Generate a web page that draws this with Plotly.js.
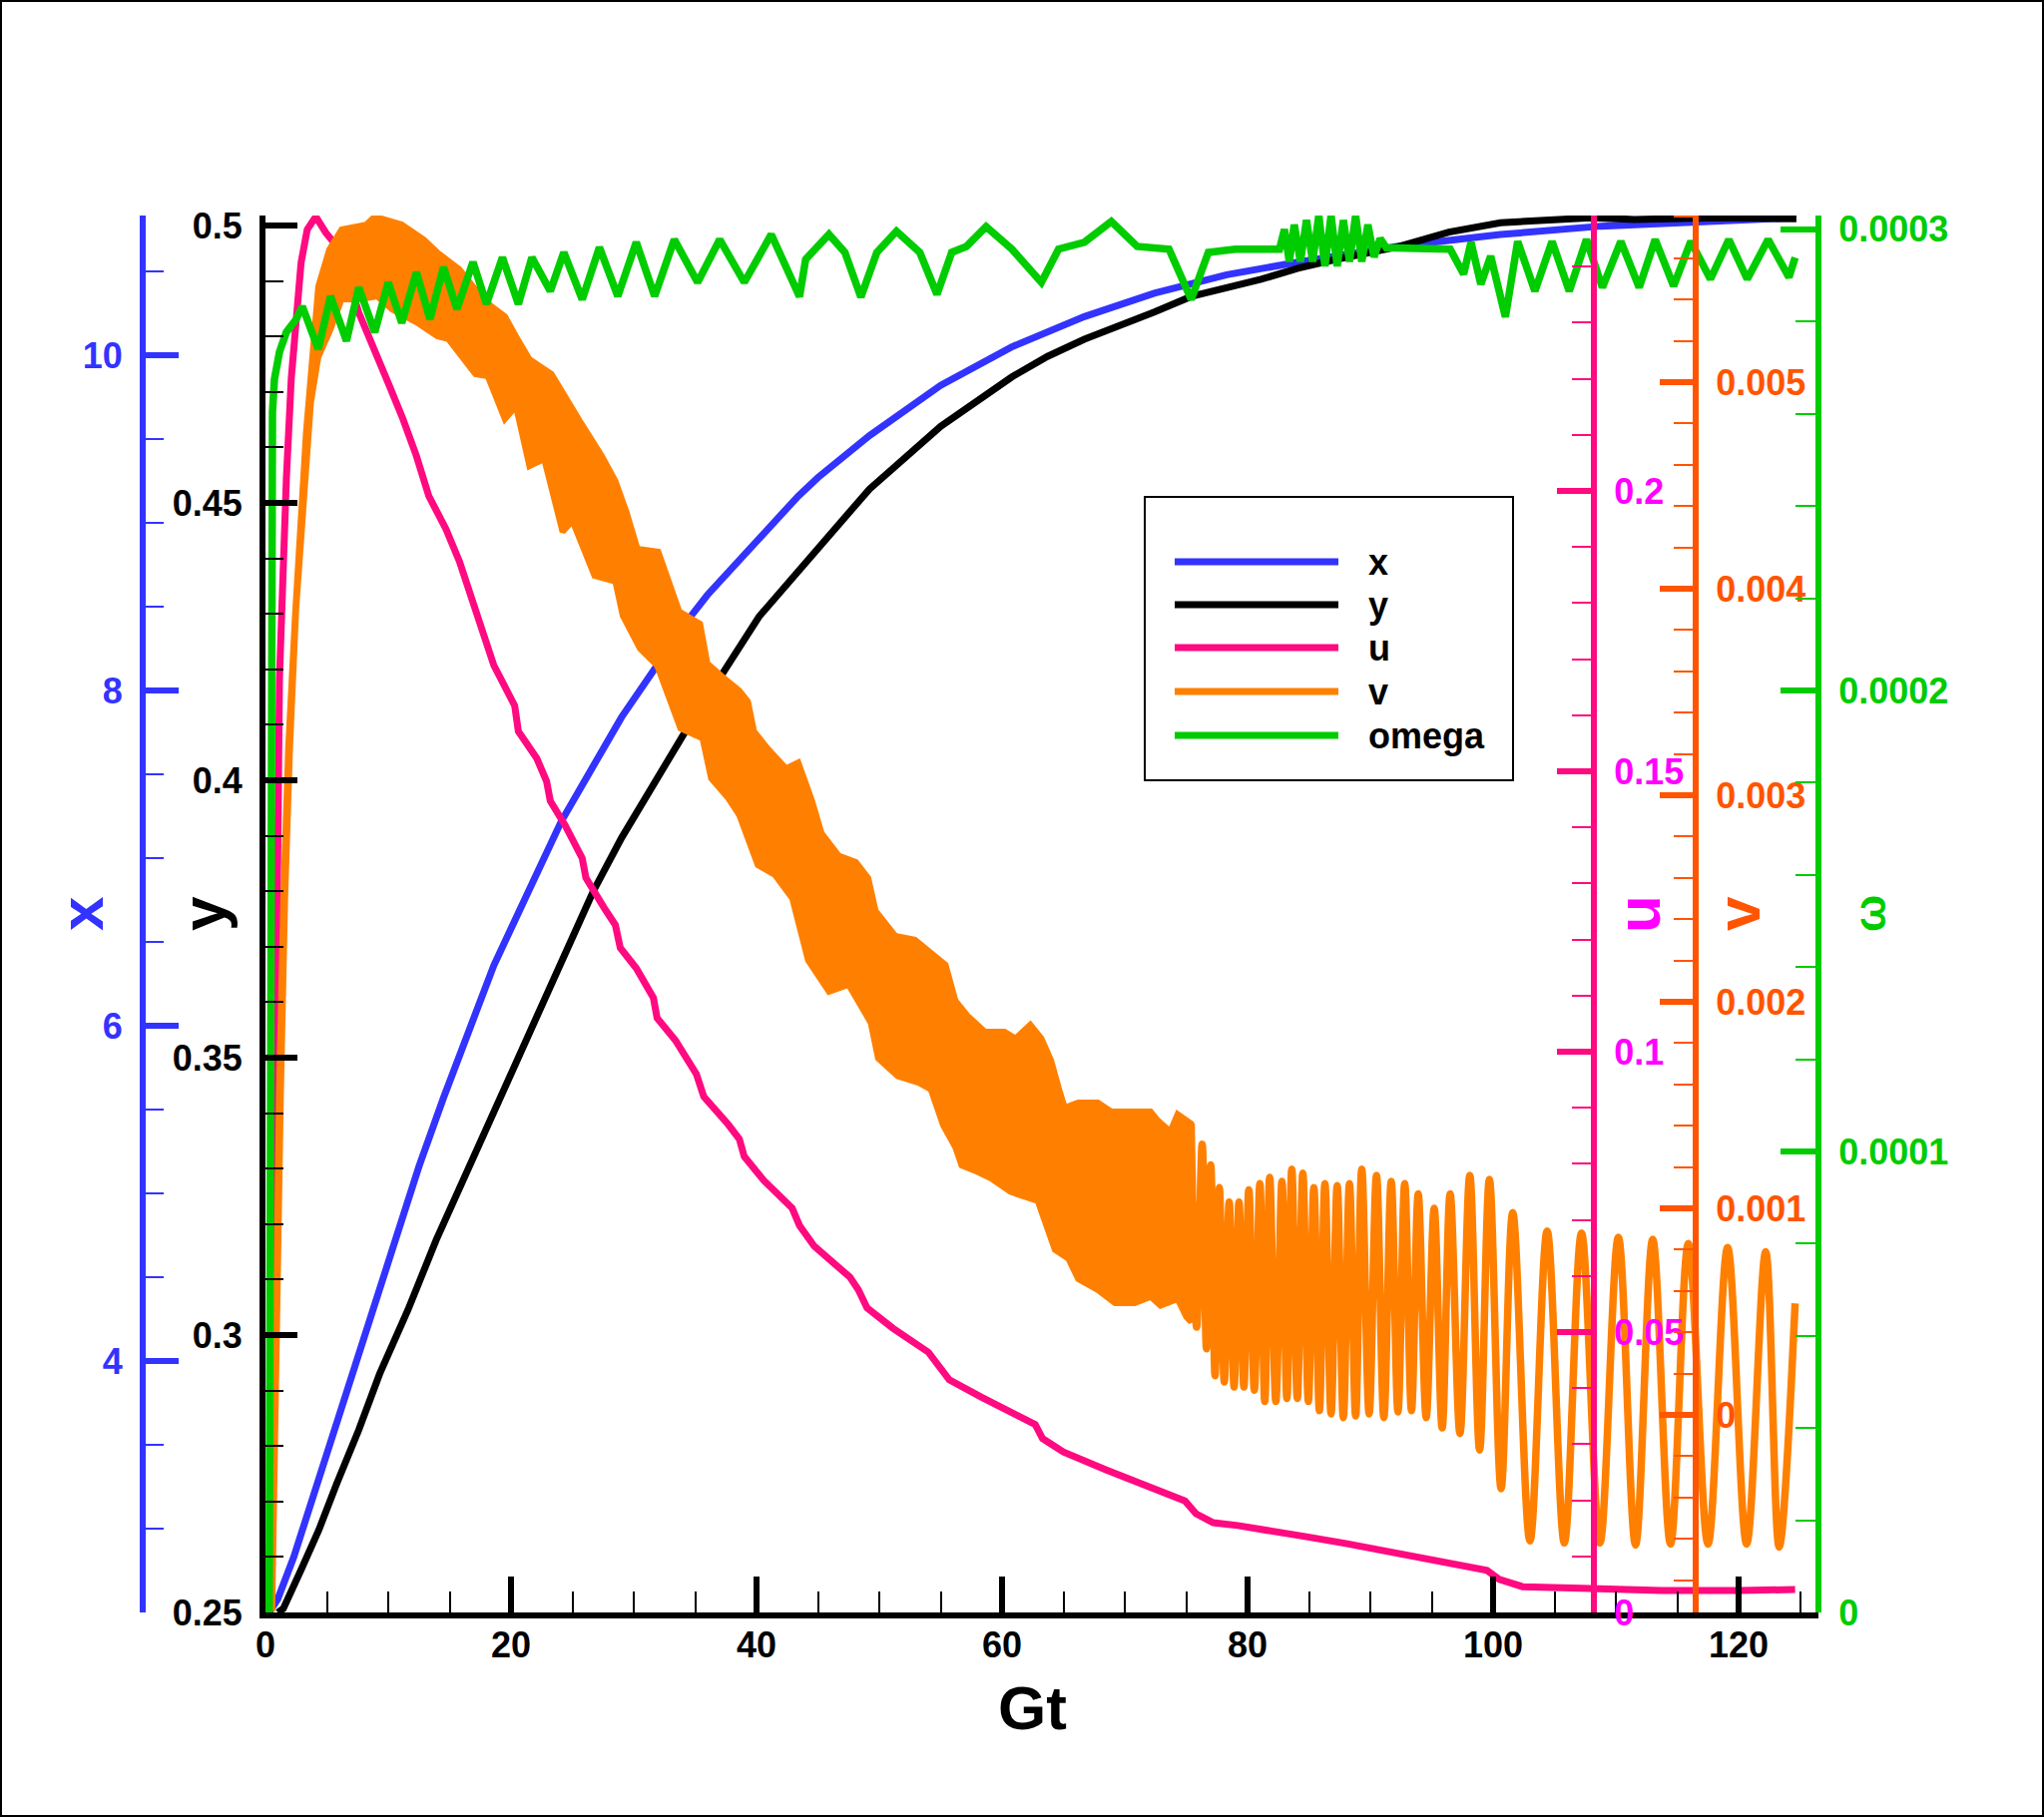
<!DOCTYPE html>
<html>
<head>
<meta charset="utf-8">
<title>Gt history</title>
<script src="https://cdn.plot.ly/plotly-3.0.1.min.js"></script>
<style>
  html, body { margin: 0; padding: 0; background: #fff; }
  #chart { width: 2048px; height: 1821px; }
</style>
</head>
<body>
<div id="chart"></div>
<script>
/* ============================================
   Data (Gt on the x axis)
   ============================================ */
// x (blue)
const xGt = [0.3, 1.0, 2.3, 3.8, 5.2, 7.0, 8.7, 10.5, 12.5, 14.5,
  18.6, 24.1, 29.0, 31.9, 34.4, 36.0, 43.4, 45.0, 49.2, 55.0,
  60.8, 66.7, 72.4, 78.3, 84.1, 92.3, 100.6, 108.8, 117.0, 124.7];
const xVals = [2.50, 2.58, 2.83, 3.17, 3.50, 3.92, 4.31, 4.72, 5.16, 5.57,
  6.36, 7.22, 7.84, 8.15, 8.42, 8.57, 9.16, 9.27, 9.52, 9.82,
  10.05, 10.23, 10.37, 10.48, 10.555, 10.65, 10.72, 10.77, 10.80, 10.82];

// y (black)
const yGt = [1.0, 1.45, 2.9, 4.35, 5.8, 7.6, 9.3, 11.6, 13.9, 16.3,
  18.6, 24.7, 26.7, 29.0, 34.2, 40.2, 43.4, 45.0, 49.2, 55.0,
  60.8, 63.7, 66.7, 72.4, 75.4, 81.1, 84.1, 87.0, 92.3, 96.4,
  100.6, 108.0, 111.5, 118.4, 124.7];
const yVals = [0.2500, 0.2507, 0.2577, 0.2649, 0.2732, 0.2829, 0.2930, 0.3045, 0.3171, 0.3290,
  0.3405, 0.3703, 0.3800, 0.3896, 0.4088, 0.4295, 0.4376, 0.4420, 0.4525, 0.4638,
  0.4727, 0.4764, 0.4795, 0.4844, 0.4872, 0.4903, 0.4923, 0.4938, 0.4962, 0.4988,
  0.5005, 0.5014, 0.5011, 0.5014, 0.5012];

// u (pink)
const uGt = [0.3, 0.45, 0.6, 0.8, 1.0, 1.14, 1.4, 1.7, 2.1, 2.5,
  2.9, 3.4, 4.1, 4.9, 6.0, 7.6, 9.0, 10.1, 11.2, 12.3,
  13.3, 14.7, 15.8, 17.6, 18.6, 20.3, 20.6, 22.1, 22.9, 23.2,
  24.4, 25.8, 26.1, 27.6, 28.5, 28.9, 30.2, 31.6, 31.9, 33.4,
  35.1, 35.7, 36.6, 37.7, 38.6, 39.0, 40.6, 42.9, 43.5, 44.7,
  47.6, 48.3, 49.0, 51.1, 54.0, 54.9, 55.7, 58.3, 62.7, 63.3,
  65.0, 68.5, 72.8, 74.9, 75.8, 77.2, 79.2, 81.5, 84.8, 88.0,
  91.2, 94.4, 97.6, 99.5, 100.5, 102.4, 107.2, 113.7, 120.1, 124.6];
const uVals = [0, 0.025, 0.06, 0.095, 0.135, 0.1666, 0.1843, 0.2021, 0.22, 0.2318,
  0.2407, 0.2466, 0.2489, 0.2461, 0.2431, 0.2318, 0.224, 0.2187, 0.2128, 0.2062,
  0.1991, 0.1932, 0.1874, 0.1754, 0.1689, 0.1617, 0.1571, 0.1523, 0.1482, 0.1447,
  0.1404, 0.1345, 0.1310, 0.1256, 0.1226, 0.1185, 0.1149, 0.1096, 0.1060, 0.1020,
  0.0960, 0.0920, 0.0899, 0.0870, 0.0844, 0.0813, 0.0770, 0.0721, 0.0690, 0.0653,
  0.0598, 0.0575, 0.0543, 0.0507, 0.0464, 0.0440, 0.0415, 0.0384, 0.0335, 0.0310,
  0.0286, 0.0254, 0.0219, 0.0199, 0.0176, 0.0160, 0.0155, 0.0148, 0.0135, 0.0123,
  0.0109, 0.0096, 0.0084, 0.0075, 0.0059, 0.0046, 0.0043, 0.0039, 0.0039, 0.0041];

// v (orange): fast oscillation, kept as upper / lower edge of the band up to Gt 75
const vHiGt = [0.45, 0.7, 0.88, 1.1, 1.45, 1.85, 2.4, 3.3, 4.3, 5.2,
  6.2, 8.2, 8.9, 11.1, 12.9, 14.0, 15.8, 16.9, 18.4, 19.5,
  20.4, 21.5, 23.3, 24.5, 25.6, 27.4, 28.5, 29.4, 30.3, 32.0,
  32.9, 33.7, 35.4, 36.0, 37.7, 38.6, 39.3, 39.8, 40.9, 42.4,
  43.4, 44.5, 45.3, 46.7, 48.1, 49.1, 49.7, 51.3, 52.9, 54.0,
  55.4, 56.2, 57.2, 58.6, 60.2, 61.1, 62.3, 63.2, 64.0, 64.6,
  65.1, 66.2, 67.8, 68.9, 72.1, 72.7, 73.7, 74.3, 75.4];
const vHi = [-0.00095, -0.0004, 0.00057, 0.00154, 0.0025, 0.00323, 0.003865, 0.004758, 0.005464, 0.005643,
  0.005739, 0.005763, 0.005802, 0.005763, 0.005691, 0.005628, 0.005546, 0.005464, 0.005367, 0.005319,
  0.005222, 0.005111, 0.005039, 0.004918, 0.004812, 0.004643, 0.004522, 0.004372, 0.004193, 0.004179,
  0.004034, 0.00389, 0.00383, 0.003638, 0.00355, 0.003507, 0.003454, 0.003309, 0.003227, 0.00313,
  0.003159, 0.002976, 0.002816, 0.002707, 0.002676, 0.002599, 0.00244, 0.002319, 0.0023, 0.002243,
  0.002179, 0.002006, 0.001932, 0.001855, 0.001855, 0.001823, 0.001889, 0.001823, 0.001715, 0.001585,
  0.001488, 0.001512, 0.001512, 0.001469, 0.001469, 0.001425, 0.001372, 0.001456, 0.00141];
const vLoGt = [0.55, 0.8, 1.0, 1.25, 1.6, 2.0, 2.5, 3.0, 3.7, 4.3,
  5.3, 6.2, 7.6, 9.1, 10.3, 12.3, 14.0, 14.9, 16.3, 17.1,
  18.1, 19.5, 20.4, 21.5, 22.7, 24.2, 25.0, 26.8, 28.5, 29.1,
  30.5, 31.9, 33.8, 35.6, 36.3, 37.7, 38.6, 40.1, 41.5, 42.9,
  44.2, 45.9, 47.5, 48.3, 49.3, 49.9, 51.5, 53.2, 54.2, 55.2,
  56.2, 56.7, 58.0, 59.1, 60.7, 62.9, 63.5, 64.3, 65.4, 66.2,
  67.8, 69.2, 70.8, 72.1, 72.9, 74.3, 75.0, 75.4];
const vLo = [-0.00095, -0.0004, 0.00057, 0.00154, 0.0025, 0.00323, 0.0039, 0.0043, 0.0049, 0.00512,
  0.005256, 0.005401, 0.005401, 0.005415, 0.005353, 0.00529, 0.005222, 0.005208, 0.005097, 0.005039,
  0.005029, 0.004821, 0.004884, 0.004594, 0.004628, 0.004275, 0.004329, 0.004063, 0.004034, 0.00387,
  0.00371, 0.003628, 0.003324, 0.003275, 0.003082, 0.002985, 0.002903, 0.002662, 0.002614, 0.002502,
  0.0022, 0.002049, 0.002082, 0.002006, 0.001899, 0.001726, 0.00164, 0.001608, 0.001575, 0.001402,
  0.001295, 0.001208, 0.001176, 0.001145, 0.001079, 0.001036, 0.000939, 0.000799, 0.000756, 0.000658,
  0.000604, 0.000541, 0.000541, 0.000572, 0.000529, 0.000561, 0.000475, 0.00045];
// v after Gt 75: peaks and troughs of the individual swings
const vTailGt = [75.4, 75.85, 76.3, 76.65, 77.0, 77.35, 77.7, 78.1, 78.5, 78.9,
  79.3, 79.7, 80.1, 80.55, 81.0, 81.4, 81.8, 82.3, 82.8, 83.2,
  83.6, 84.05, 84.5, 84.95, 85.4, 85.85, 86.3, 86.8, 87.3, 87.8,
  88.3, 88.8, 89.3, 89.9, 90.5, 91.1, 91.7, 92.25, 92.8, 93.35,
  93.9, 94.55, 95.2, 95.85, 96.5, 97.3, 98.1, 98.9, 99.7, 100.65,
  101.6, 103.0, 104.4, 105.8, 107.2, 108.7, 110.2, 111.6, 113.0, 114.45,
  115.9, 117.5, 119.1, 120.65, 122.2, 123.3, 124.6];
const vTail = [0.00141, 0.000425, 0.00131, 0.00032, 0.00121, 0.00019, 0.0011, 0.00016, 0.00103, 0.000135,
  0.00103, 0.000135, 0.00109, 0.00012, 0.00112, 0.000065, 0.00115, 0.000065, 0.00113, 0.00008,
  0.00119, 0.00008, 0.00117, 0.000065, 0.0011, 0.00002, 0.00112, 0.000005, 0.00111, -0.000013,
  0.00112, -0.000005, 0.00119, 0.000005, 0.00116, -0.000013, 0.00113, 0.000014, 0.00112, 0.00002,
  0.00107, -0.000013, 0.001, -0.000063, 0.00107, -0.00009, 0.00116, -0.00017, 0.00114, -0.000357,
  0.00098, -0.00061, 0.00089, -0.00062, 0.00088, -0.00062, 0.00086, -0.00063, 0.00085, -0.000625,
  0.00083, -0.000625, 0.00081, -0.000625, 0.00079, -0.00064, 0.00054];

// omega (green)
const omegaGt = [0.3, 0.42, 0.49, 0.57, 0.73, 1.14, 1.7, 2.5, 3.0, 4.3,
  5.3, 6.6, 7.6, 8.9, 10.0, 11.1, 12.3, 13.4, 14.5, 15.6,
  16.9, 18.0, 19.3, 20.6, 21.7, 23.2, 24.3, 25.8, 27.2, 28.7,
  30.2, 31.7, 33.3, 35.2, 37.0, 39.0, 41.2, 43.5, 44.0, 45.9,
  47.2, 48.5, 49.8, 51.4, 53.3, 54.7, 55.9, 57.1, 58.7, 60.8,
  63.2, 64.6, 66.7, 68.9, 71.0, 73.6, 75.4, 76.8, 79.0, 82.6,
  83.0, 83.4, 83.8, 84.3, 84.8, 85.3, 85.8, 86.3, 86.8, 87.3,
  87.8, 88.3, 88.8, 89.3, 89.8, 90.3, 90.8, 91.3, 96.5, 97.6,
  98.2, 99.0, 99.8, 101.0, 102.0, 103.4, 104.8, 106.2, 107.6, 108.9,
  110.4, 111.9, 113.2, 114.7, 116.1, 117.7, 119.2, 120.7, 122.4, 124.1,
  124.6];
const omegaVals = [0, 0.000180, 0.0002444, 0.0002604, 0.0002675, 0.0002734, 0.0002777, 0.0002805, 0.0002833, 0.0002740,
  0.0002855, 0.0002758, 0.0002874, 0.0002777, 0.0002885, 0.0002797, 0.0002907, 0.0002805, 0.0002918, 0.0002827,
  0.0002929, 0.0002838, 0.0002939, 0.0002838, 0.0002939, 0.0002866, 0.0002950, 0.0002848, 0.0002961, 0.0002855,
  0.0002972, 0.0002855, 0.0002978, 0.0002885, 0.0002978, 0.0002885, 0.0002989, 0.0002854, 0.0002935, 0.0002989,
  0.0002950, 0.0002853, 0.0002950, 0.0002996, 0.0002950, 0.0002859, 0.0002950, 0.0002963, 0.0003006, 0.0002957,
  0.0002885, 0.0002957, 0.0002972, 0.0003017, 0.0002963, 0.0002957, 0.0002848, 0.0002950, 0.0002957, 0.0002957,
  0.000300, 0.000293, 0.000301, 0.000293, 0.000302, 0.000293, 0.000303, 0.000292, 0.000303, 0.000292,
  0.000302, 0.000293, 0.000303, 0.000293, 0.000301, 0.000294, 0.000298, 0.000296, 0.0002957, 0.0002903,
  0.0002972, 0.0002881, 0.0002942, 0.0002810, 0.0002974, 0.0002866, 0.0002974, 0.0002866, 0.0002978, 0.0002874,
  0.0002974, 0.0002874, 0.0002978, 0.0002877, 0.0002974, 0.0002892, 0.0002978, 0.0002892, 0.0002978, 0.0002896,
  0.0002939];

// legend entries
const legendNames = ['x', 'y', 'u', 'v', 'omega'];

/* ============================================
   Chart
   ============================================ */
document.addEventListener('DOMContentLoaded', function () {
    drawChart();
});

function drawChart() {
    const palette = {
        blue: '#3333ff',
        black: '#000000',
        pink: '#ff0a80',
        magenta: '#ff00ff',
        orange: '#ff8000',
        orangeAxis: '#ff5500',
        green: '#00cc00'
    };
    const family = "'Liberation Sans', Arial, sans-serif";

    // plot area in pixels: x 266..1822, y 216..1616 (margins l/r 60)
    const W = 2048, H = 1821, mL = 60, mR = 60, mT = 216, mB = 205;
    const plotW = W - mL - mR, plotH = H - mT - mB;
    const px = function (X) { return (X - mL) / plotW; };
    const py = function (Y) { return (H - mB - Y) / plotH; };

    const line = function (color, width) { return { color: color, width: width }; };

    const traces = [
        { x: xGt, y: xVals, yaxis: 'y', type: 'scatter', mode: 'lines', name: 'x', line: line(palette.blue, 7) },
        { x: yGt, y: yVals, yaxis: 'y2', type: 'scatter', mode: 'lines', name: 'y', line: line(palette.black, 7) },
        { x: uGt, y: uVals, yaxis: 'y3', type: 'scatter', mode: 'lines', name: 'u', line: line(palette.pink, 7) },
        {
            // band: upper edge forward, lower edge back
            x: vHiGt.concat(vLoGt.slice().reverse()),
            y: vHi.concat(vLo.slice().reverse()),
            yaxis: 'y4', type: 'scatter', mode: 'lines', name: 'v',
            fill: 'toself', fillcolor: palette.orange, line: line(palette.orange, 6)
        },
        {
            x: vTailGt, y: vTail, yaxis: 'y4', type: 'scatter', mode: 'lines', name: 'v',
            line: { color: palette.orange, width: 7.5, shape: 'spline', smoothing: 1 }
        },
        { x: omegaGt, y: omegaVals, yaxis: 'y5', type: 'scatter', mode: 'lines', name: 'omega', line: line(palette.green, 7.5) }
    ];

    function axisStyle(color, labelColor, major, minor, fmt) {
        return {
            showline: true, linecolor: color, linewidth: 6,
            ticks: 'inside', ticklen: major.len, tickwidth: 6, tickcolor: color,
            dtick: major.dtick, tick0: 0, tickformat: fmt,
            minor: { dtick: minor.dtick, ticks: 'inside', ticklen: minor.len, tickwidth: 2, tickcolor: color, showgrid: false },
            tickfont: { family: family, size: 36, color: labelColor, weight: 'bold' },
            ticklabelstandoff: 10,
            showgrid: false, zeroline: false, fixedrange: true
        };
    }

    const xDomain = [px(266), px(1822)];

    const layout = {
        width: W, height: H,
        margin: { l: mL, r: mR, t: mT, b: mB },
        paper_bgcolor: '#ffffff', plot_bgcolor: '#ffffff',
        showlegend: false,
        font: { family: family, size: 36, color: '#000', weight: 'bold' },
        xaxis: Object.assign(axisStyle(palette.black, palette.black, { dtick: 20, len: 36 }, { dtick: 5, len: 21 }, 'd'), {
            domain: xDomain, range: [0, 126.5], ticklabelstandoff: -4
        }),
        yaxis: Object.assign(axisStyle(palette.blue, palette.blue, { dtick: 2, len: 33 }, { dtick: 0.5, len: 18 }, 'd'), {
            range: [2.5, 10.8333], anchor: 'free', position: px(143), side: 'left'
        }),
        yaxis2: Object.assign(axisStyle(palette.black, palette.black, { dtick: 0.05, len: 32 }, { dtick: 0.01, len: 18 }, '.2~f'), {
            range: [0.25, 0.5018], overlaying: 'y', anchor: 'x', side: 'left'
        }),
        yaxis3: Object.assign(axisStyle(palette.pink, palette.magenta, { dtick: 0.05, len: 34 }, { dtick: 0.01, len: 19 }, '.2~f'), {
            range: [0, 0.2491], overlaying: 'y', anchor: 'free', position: px(1597), side: 'right'
        }),
        yaxis4: Object.assign(axisStyle(palette.orangeAxis, palette.orangeAxis, { dtick: 0.001, len: 33 }, { dtick: 0.0002, len: 19 }, '.3~f'), {
            range: [-0.0009565, 0.0058068], overlaying: 'y', anchor: 'free', position: px(1699), side: 'right'
        }),
        yaxis5: Object.assign(axisStyle(palette.green, palette.green, { dtick: 0.0001, len: 35 }, { dtick: 0.00002, len: 20 }, '.4~f'), {
            range: [0, 0.000303], overlaying: 'y', anchor: 'free', position: px(1822), side: 'right'
        }),
        shapes: [],
        annotations: []
    };

    // axis titles
    const titleFont = function (color, size) { return { family: family, size: size, color: color, weight: 'bold' }; };
    const titles = [
        { text: 'x', X: 81, size: 62, color: palette.blue },
        { text: 'y', X: 203, size: 62, color: palette.black },
        { text: 'u', X: 1641, size: 62, color: palette.magenta },
        { text: 'v', X: 1741, size: 62, color: palette.orangeAxis },
        { text: 'ω', X: 1873, size: 44, color: palette.green }
    ];
    titles.forEach(function (t) {
        layout.annotations.push({
            text: t.text, xref: 'paper', yref: 'paper', x: px(t.X), y: py(916),
            xanchor: 'center', yanchor: 'middle', textangle: -90, showarrow: false,
            font: titleFont(t.color, t.size)
        });
    });
    layout.annotations.push({
        text: 'Gt', xref: 'paper', yref: 'paper', x: px(1034), y: py(1711),
        xanchor: 'center', yanchor: 'middle', showarrow: false, font: titleFont(palette.black, 62)
    });

    // legend box drawn by hand (long line samples as in the reference)
    layout.shapes.push({
        type: 'rect', xref: 'paper', yref: 'paper',
        x0: px(1147), x1: px(1516), y0: py(782), y1: py(498),
        line: { color: '#000', width: 2 }, fillcolor: '#fff'
    });
    const legendColors = [palette.blue, palette.black, palette.pink, palette.orange, palette.green];
    const legendRows = [563, 606, 649, 693, 737];
    legendNames.forEach(function (name, i) {
        layout.shapes.push({
            type: 'line', xref: 'paper', yref: 'paper',
            x0: px(1177), x1: px(1341), y0: py(legendRows[i]), y1: py(legendRows[i]),
            line: { color: legendColors[i], width: 7 }
        });
        layout.annotations.push({
            text: name, xref: 'paper', yref: 'paper', x: px(1369), y: py(legendRows[i]),
            xanchor: 'left', yanchor: 'middle', showarrow: false,
            font: { family: family, size: 36, color: '#000', weight: 'bold' }
        });
    });

    // frame round the whole picture
    layout.shapes.push({
        type: 'rect', xref: 'paper', yref: 'paper',
        x0: px(1), x1: px(W - 1), y0: py(H - 1), y1: py(1),
        line: { color: '#000', width: 2 }
    });

    Plotly.newPlot('chart', traces, layout, { displayModeBar: false, staticPlot: true });
}
</script>
</body>
</html>
